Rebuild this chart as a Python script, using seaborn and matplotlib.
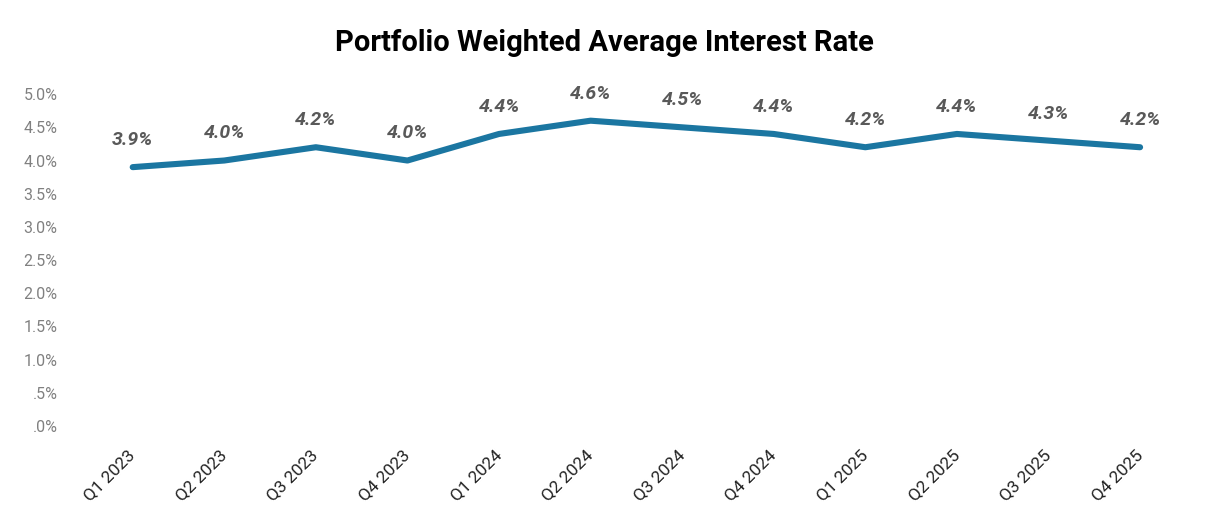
import matplotlib
matplotlib.use("Agg")
import matplotlib.pyplot as plt
import seaborn as sns
import pandas as pd
from matplotlib.ticker import FuncFormatter, MultipleLocator

# 数据
quarters = ["Q1 2023", "Q2 2023", "Q3 2023", "Q4 2023",
            "Q1 2024", "Q2 2024", "Q3 2024", "Q4 2024",
            "Q1 2025", "Q2 2025", "Q3 2025", "Q4 2025"]
rates = [3.9, 4.0, 4.2, 4.0, 4.4, 4.6, 4.5, 4.4, 4.2, 4.4, 4.3, 4.2]

df = pd.DataFrame({"quarter": quarters, "rate": [r / 100 for r in rates]})

sns.set_style("white")
plt.rcParams['font.family'] = ['Roboto', 'DejaVu Sans']

fig = plt.figure(figsize=(12.07, 5.23), dpi=100)
ax = fig.add_axes([0.072, 0.1855, 0.9105, 0.6345])

sns.lineplot(data=df, x="quarter", y="rate", ax=ax, color="#1B76A1",
             linewidth=4.4, sort=False)

# 数据标签
for i, r in enumerate(rates):
    ax.annotate(f"{r:.1f}%", (i, r / 100), xytext=(0, 13), textcoords="offset points",
                ha="center", va="bottom", fontsize=14, fontweight="bold",
                fontstyle="italic", color="#595959", annotation_clip=False)

ax.set_xlim(-0.5, len(quarters) - 0.5)
ax.set_ylim(0, 0.05)
ax.yaxis.set_major_locator(MultipleLocator(0.005))


def pct_fmt(v, pos):
    s = f"{v * 100:.1f}%"
    if s.startswith("0"):
        s = s[1:]
    return s


ax.yaxis.set_major_formatter(FuncFormatter(pct_fmt))
ax.tick_params(axis="y", length=0, pad=21, labelsize=11.5, labelcolor="#808080")
ax.tick_params(axis="x", length=0, pad=19, labelsize=12.5, labelcolor="#222222")
plt.setp(ax.get_xticklabels(), rotation=45, ha="right", va="center",
         rotation_mode="anchor")

ax.set_xlabel("")
ax.set_ylabel("")
sns.despine(ax=ax, left=True, bottom=True)

fig.text(0.501, 0.918, "Portfolio Weighted Average Interest Rate", ha="center",
         va="center", fontsize=21, fontweight="bold", color="#000000")

fig.savefig("out.png", dpi=100)
